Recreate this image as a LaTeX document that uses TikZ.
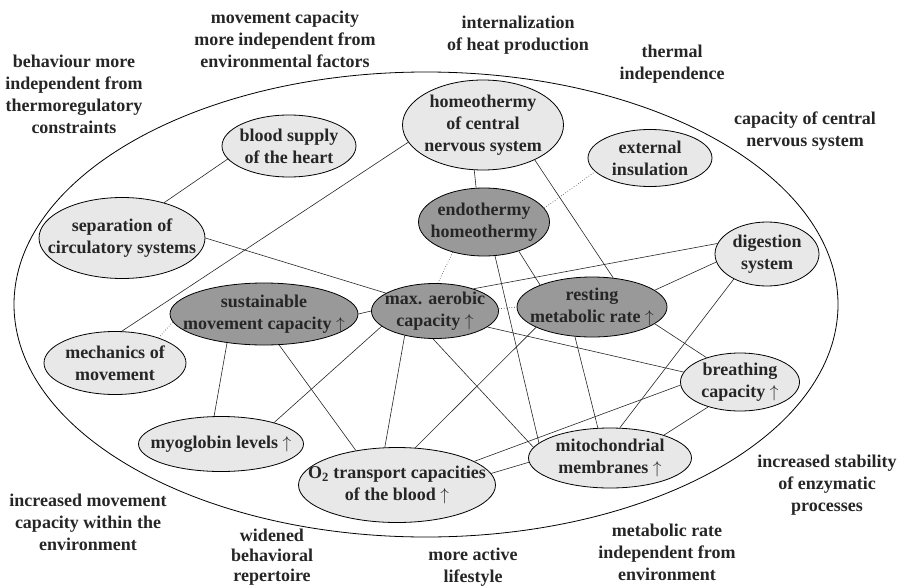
\documentclass[tikz,border=0pt]{standalone}
\usepackage{fontspec}
\setmainfont{Liberation Serif}
\usetikzlibrary{shapes.geometric}

\begin{document}
\begin{tikzpicture}[x=1pt,y=-1pt,
    font=\fontsize{18}{22}\selectfont\bfseries,
    every node/.style={align=center,text=black!85},
    trait/.style={ellipse,draw,fill=black!9,inner sep=-40pt,line width=0.8pt},
    core/.style={trait,fill=black!40},
    link/.style={line width=0.6pt,black!85}]
  \clip (0,0) rectangle (904,586);
  \draw[line width=0.8pt] (426,304.5) ellipse [x radius=412,y radius=232.5];

  % traits inside the ellipse
  \node[trait,minimum width=134pt,minimum height=62pt] (H) at (289,146) {blood supply\\of the heart};
  \node[trait,minimum width=161pt,minimum height=90pt] (C) at (483,125) {homeothermy\\of central\\nervous system};
  \node[trait,minimum width=124pt,minimum height=57pt] (E) at (650,158) {external\\insulation};
  \node[trait,minimum width=166pt,minimum height=81pt] (S) at (122,238) {separation of\\circulatory systems};
  \node[core,minimum width=131pt,minimum height=68pt] (N) at (484,222) {endothermy\\homeothermy};
  \node[trait,minimum width=104pt,minimum height=64pt] (D) at (767,254) {digestion\\system};
  \node[core,minimum width=188pt,minimum height=62pt] (U) at (264,314) {sustainable\\movement capacity $\uparrow$};
  \node[core,minimum width=127pt,minimum height=55pt] (M) at (435,311) {max. aerobic\\capacity $\uparrow$};
  \node[core,minimum width=150pt,minimum height=60pt] (R) at (592,307) {resting\\metabolic rate $\uparrow$};
  \node[trait,minimum width=142pt,minimum height=63pt] (K) at (115,363) {mechanics of\\movement};
  \node[trait,minimum width=119pt,minimum height=58pt] (B) at (740,382) {breathing\\capacity $\uparrow$};
  \node[trait,minimum width=165pt,minimum height=55pt] (Y) at (221,444) {myoglobin levels $\uparrow$};
  \node[trait,minimum width=197pt,minimum height=75pt] (O) at (397,485) {O\textsubscript{2} transport capacities\\of the blood $\uparrow$};
  \node[trait,minimum width=163pt,minimum height=60pt] (T) at (610,458) {mitochondrial\\membranes $\uparrow$};

  \foreach \a/\b in {S.40/H.192, S.0/M.160, C.193/K.78, C.259/N.103, C.-34/R.54,
      N.-72/T.168, N.-40/R.157, M.30/D.168, U.0/M.180, U.218/Y.104, U.-64/O.140,
      M.196/Y.22, M.219/O.108, M.266/T.172, M.-17/B.170, R.200/O.64, R.240/T.112,
      R.15/D.189, R.-15/B.144, D.217/T.72, B.183/O.17, B.218/T.23, O.7/T.183}
    \draw[link] (\a) -- (\b);
  \foreach \a/\b in {N.13/E.194, N.224/M.84, M.2/R.180, U.185/K.30}
    \draw[link,dotted] (\a) -- (\b);

  % consequences outside
  \node (behav) at (74,94) {behaviour more\\independent from\\thermoregulatory\\constraints};
  \node (movind) at (285,39) {movement capacity\\more independent from\\environmental factors};
  \node (heat) at (518,35) {internalization\\of heat production};
  \node (therm) at (672,64) {thermal\\independence};
  \node (brain) at (805,131) {capacity of central\\nervous system};
  \node (enzym) at (827,485) {increased stability\\of enzymatic\\processes};
  \node (metab) at (667,552) {metabolic rate\\independent from\\environment};
  \node (active) at (473,567) {more active\\lifestyle};
  \node[font=\fontsize{18}{20}\selectfont\bfseries] (repert) at (272,557) {widened\\behavioral\\repertoire};
  \node (movenv) at (88,522) {increased movement\\capacity within the\\environment};
\end{tikzpicture}
\end{document}
